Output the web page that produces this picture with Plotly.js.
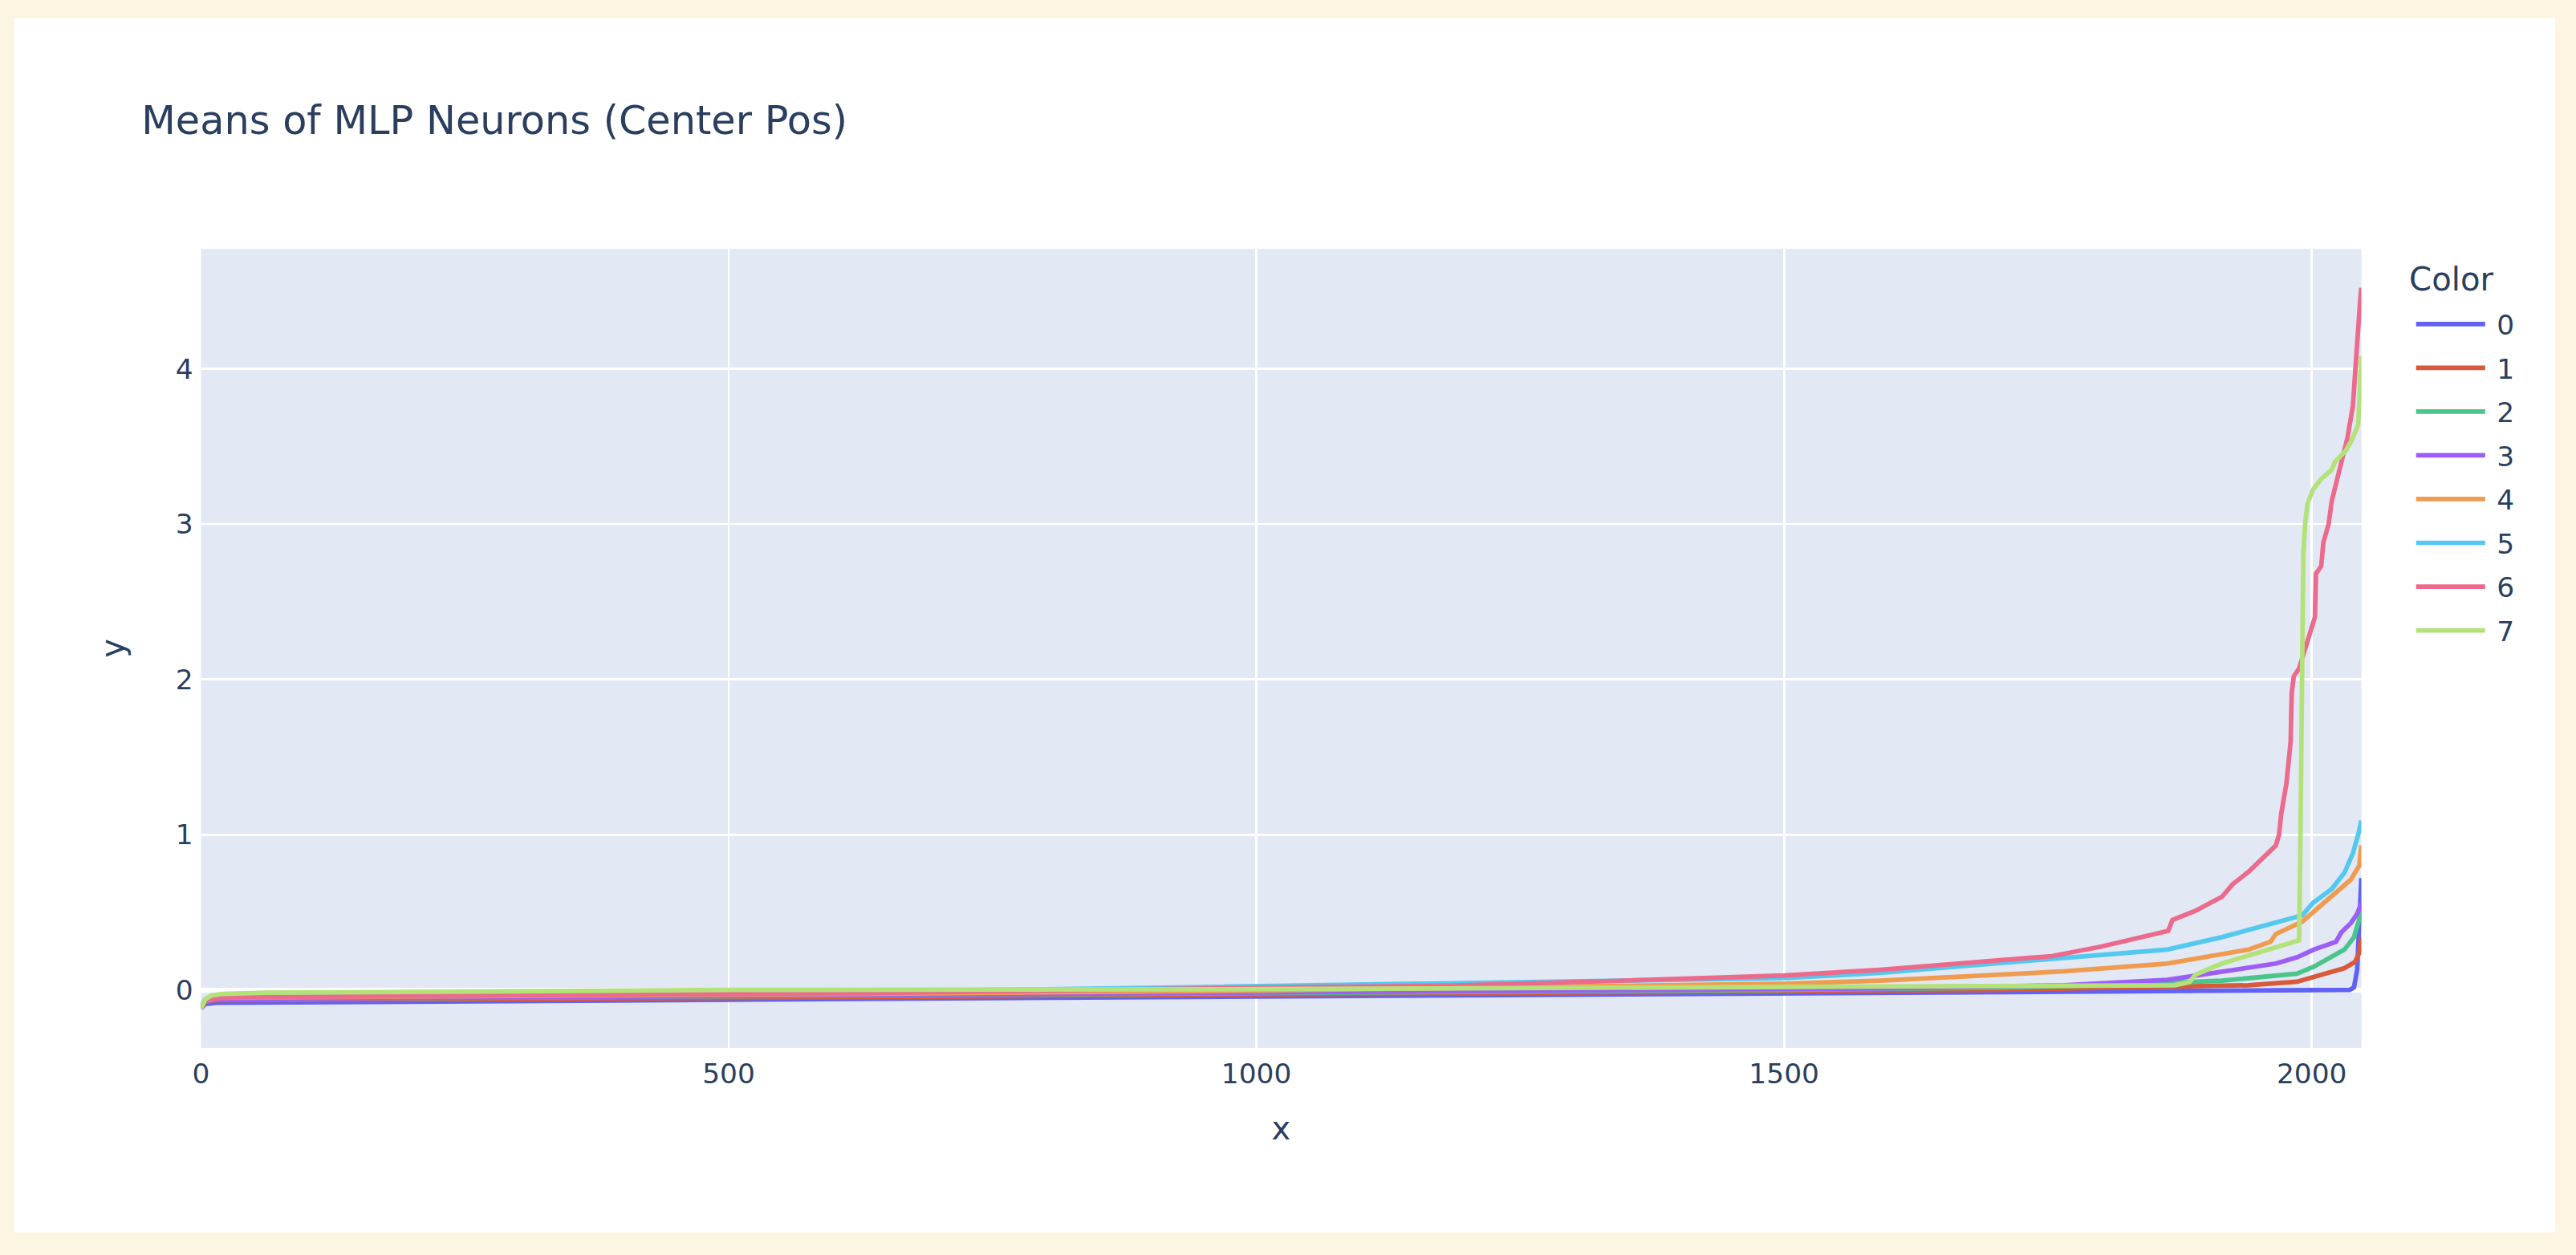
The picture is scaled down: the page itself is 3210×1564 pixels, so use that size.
<!DOCTYPE html>
<html>
<head>
<meta charset="utf-8">
<script src="https://cdn.plot.ly/plotly-3.0.1.min.js"></script>
<style>
html,body{margin:0;padding:0;background:#fbf5e1;overflow:hidden;width:3210px;height:1564px;}
#chart{position:absolute;left:18px;top:23px;width:1103px;height:527px;background:#fff;transform:scale(2.87);transform-origin:0 0;}
</style>
</head>
<body>
<div id="chart"></div>
<script>
// sorted neuron means per color (x = neuron rank)
let names = ["0","1","2","3","4","5","6","7"];
let colors = ["#5f62f5","#d95a3a","#4cc58c","#9d5ef5","#f09c50","#55c8f0","#ec6a8c","#b4e27a"];

let x0 = [0,4,15,315,989,1500,1800,2036,2040,2043,2045,2047];
let y0 = [-0.12,-0.09,-0.083,-0.07,-0.04,-0.02,0.0,0.0,0.017,0.13,0.42,0.72];

let x1 = [0,4,15,315,989,1500,1700,1800,1940,1986,2007,2031,2041,2045,2047];
let y1 = [-0.11,-0.08,-0.065,-0.06,-0.03,-0.015,0.0,0.013,0.03,0.053,0.09,0.14,0.18,0.24,0.34];

let x2 = [0,4,15,315,989,1500,1700,1800,1915,1986,2002,2016,2031,2040,2045,2047];
let y2 = [-0.11,-0.075,-0.06,-0.048,-0.025,0.0,0.015,0.03,0.06,0.105,0.15,0.20,0.26,0.34,0.48,0.50];

let x3 = [0,4,15,315,630,989,1358,1591,1766,1863,1966,1986,2002,2023,2028,2037,2043,2047];
let y3 = [-0.11,-0.075,-0.06,-0.045,-0.04,-0.02,0.0,0.01,0.03,0.065,0.17,0.21,0.26,0.31,0.37,0.43,0.49,0.56];

let x4 = [0,4,15,315,630,989,1358,1500,1591,1678,1766,1863,1940,1961,1966,1991,2001,2019,2037,2045,2047];
let y4 = [-0.11,-0.07,-0.05,-0.04,-0.025,-0.005,0.02,0.04,0.06,0.09,0.12,0.17,0.26,0.31,0.36,0.44,0.50,0.61,0.71,0.80,0.93];

let x5 = [0,4,15,100,300,630,757,950,1358,1500,1591,1678,1766,1863,1915,1966,1991,2001,2019,2031,2039,2044,2047];
let y5 = [-0.1,-0.06,-0.045,-0.04,-0.03,-0.015,0.0,0.019,0.055,0.076,0.11,0.16,0.21,0.26,0.34,0.44,0.48,0.56,0.65,0.755,0.88,1.0,1.09];

let x6 = [0,4,10,30,300,630,950,1183,1358,1500,1591,1678,1754,1801,1836,1864,1868,1890,1915,1925,1940,1955,1966,1969,1971,1976,1978,1980,1981,1983,1988,1993,1999,2003,2004,2009,2011,2016,2019,2024,2029,2034,2039,2042,2043,2046,2047];
let y6 = [-0.11,-0.07,-0.055,-0.047,-0.035,-0.02,0.01,0.028,0.062,0.093,0.13,0.175,0.218,0.28,0.34,0.38,0.45,0.51,0.60,0.68,0.76,0.86,0.93,1.0,1.13,1.33,1.54,1.6,1.91,2.02,2.07,2.18,2.34,2.4,2.68,2.73,2.88,3.0,3.15,3.29,3.42,3.56,3.76,3.99,4.16,4.45,4.52];

let x7 = [0,4,10,20,60,200,500,1000,1500,1800,1870,1884,1890,1915,1940,1966,1988,1989,1990,1991,1992,1994,1996,2001,2009,2019,2022,2032,2038,2044,2045,2047];
let y7 = [-0.12,-0.06,-0.035,-0.025,-0.018,-0.01,0.0,0.005,0.015,0.02,0.03,0.05,0.10,0.17,0.22,0.27,0.32,0.8,1.47,2.2,2.81,3.02,3.13,3.22,3.29,3.35,3.40,3.47,3.54,3.64,3.82,4.08];

let xs = [x0,x1,x2,x3,x4,x5,x6,x7];
let ys = [y0,y1,y2,y3,y4,y5,y6,y7];

let traces = names.map((n,i)=>({x:xs[i],y:ys[i],name:n,legendgroup:n,mode:'lines',type:'scatter',line:{color:colors[i],width:2,dash:'solid'},showlegend:true}));

let axis = {gridcolor:'white',linecolor:'white',ticks:'',zerolinecolor:'white',zerolinewidth:2,automargin:true};

let layout = {
  width:1103,height:527,
  margin:{l:81,r:84,t:100,b:80},
  paper_bgcolor:'white',plot_bgcolor:'#e2e8f4',
  font:{family:'"DejaVu Sans", Verdana, sans-serif',size:12,color:'#2a3f5f'},
  title:{text:'Means of MLP Neurons (Center Pos)',x:0.05,font:{size:17.2}},
  xaxis:Object.assign({},axis,{range:[0,2047],title:{text:'x',standoff:12}}),
  yaxis:Object.assign({},axis,{range:[-0.373,4.772],title:{text:'y',standoff:18}}),
  legend:{title:{text:'Color'},tracegroupgap:0}
};

Plotly.newPlot('chart',traces,layout,{displayModeBar:false,staticPlot:true});
</script>
</body>
</html>
